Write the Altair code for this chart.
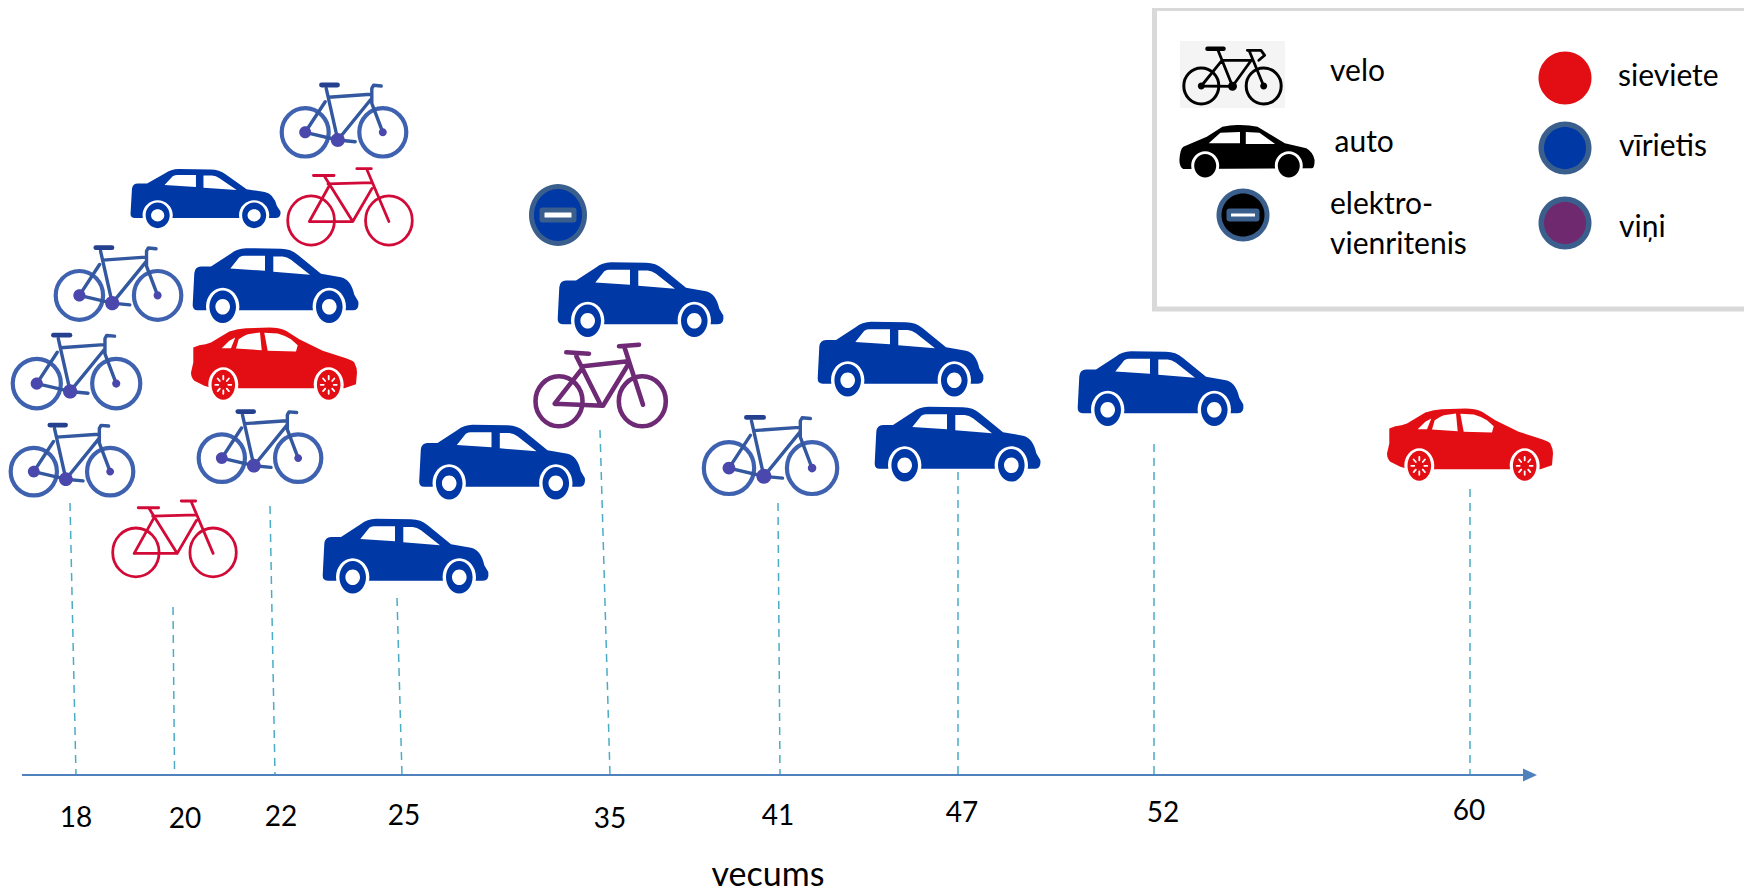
import re
import altair as alt
import pandas as pd

# ---- values (picture units, y grows downwards) ----
ages = ["18", "20", "22", "25", "35", "41", "47", "52", "60"]
line_top_x = [70, 173, 270, 397, 600, 778, 958, 1154, 1470]
line_top_y = [503, 607, 506, 598, 430, 503, 472, 444, 489]
line_base_x = [76, 174.5, 275, 402, 610, 780, 958, 1154, 1470]
line_base_y = [775, 769, 775, 775, 775, 775, 775, 775, 775]
age_label_x = [76, 185, 281, 404, 610, 778, 962, 1163, 1469]
age_label_y = [827, 828, 826, 825, 828, 825, 822, 822, 820]

blue_bike_x = [343.5, 118, 76, 71.5, 259.5, 770]
blue_bike_y = [121, 284, 372, 460.5, 447, 456]
blue_bike_w = [127, 128, 130, 125, 125, 136]
red_bike_x = [350, 174.5]
red_bike_y = [207, 539]
red_bike_w = [126, 125]
purple_bike_x = [600]
purple_bike_y = [386]
blue_car_x = [275, 640, 405, 501.5, 900, 957, 1160]
blue_car_y = [285.5, 299.5, 556, 462, 359, 444, 388.5]
small_car_x = [205]
small_car_y = [198.5]
red_car_x = [274, 1470]
red_car_y = [363.5, 444.5]
uni_x = [558]
uni_y = [215]

legend_left_labels = ["velo", "auto", "elektro-", "vienritenis"]
legend_left_x = [1330, 1334.5, 1330, 1330]
legend_left_y = [81, 152, 214, 254]
legend_right_labels = ["sieviete", "vīrietis", "viņi"]
legend_right_x = [1618, 1619, 1619]
legend_right_y = [86, 156, 237]
legend_dot_x = [1565, 1565, 1565]
legend_dot_y = [78, 148, 223]

FONT = "Lato"
BLUE, RED, PURPLE = "#0038a5", "#e30e14", "#6f2a6f"
BIKE_BLUE, BIKE_RED, BIKE_PURPLE = "#3f62b0", "#d10a37", "#6e2a74"
RING = "#3a5f8c"

xs = alt.Scale(domain=[8, 1744], range=[0, 1736])
ys = alt.Scale(domain=[894, 8], range=[886, 0])
X = alt.X("x:Q", scale=xs, axis=None)
Y = alt.Y("y:Q", scale=ys, axis=None)


def ell(cx, cy, rx, ry):
    k = 0.5523
    return (f"M{cx-rx} {cy} C{cx-rx} {cy-k*ry} {cx-k*rx} {cy-ry} {cx} {cy-ry} "
            f"C{cx+k*rx} {cy-ry} {cx+rx} {cy-k*ry} {cx+rx} {cy} "
            f"C{cx+rx} {cy+k*ry} {cx+k*rx} {cy+ry} {cx} {cy+ry} "
            f"C{cx-k*rx} {cy+ry} {cx-rx} {cy+k*ry} {cx-rx} {cy} Z ")


def rescale(d, sx, sy):
    i = [0]
    def f(m):
        v = float(m.group(0)) * (sx if i[0] % 2 == 0 else sy)
        i[0] += 1
        return f"{v:.2f}"
    return re.sub(r"-?\d+\.?\d*", f, d)


def pts(df, path, color, size=4, filled=True, width=0, size_field=False):
    kw = dict(shape=path, opacity=1, filled=filled, strokeCap="round", strokeJoin="round")
    if filled:
        kw.update(fill=color, strokeWidth=0)
    else:
        kw.update(stroke=color, strokeWidth=width, fill="transparent")
    enc = dict(x=X, y=Y)
    enc["size"] = alt.Size("s:Q", scale=None, legend=None) if size_field else alt.value(size)
    return alt.Chart(df).mark_point(**kw).encode(**enc)


# ---- saloon car outline (units = px at full size) ----
CAR_BODY = ("M-82.3 19.3 L-80.7 -12.3 Q-80 -19 -74 -19 L-64 -19 L-44 -32 Q-38 -37 -29 -37.3 "
            "L6 -36.7 Q16 -36.5 22.7 -30.7 L46 -11.7 L66 -8.3 Q76 -6 79.3 9.3 L83.3 16 "
            "Q84.5 24.7 77.7 24.7 L-77.3 24.7 Q-82.5 24.7 -82.3 19.3 Z")
CAR_WINDOWS = ("M-44.7 -17 L-35.7 -28.3 Q-33 -29.7 -30.7 -29.7 L-10 -29.7 L-10 -14.7 Z "
               "M-1.7 -29 L7.7 -29 Q12 -28.5 16 -25.7 L35 -10.7 L-1.7 -13.7 Z ")
CAR_ARCH = ell(-52.3, 21.3, 16.7, 19) + ell(54.3, 21.3, 16.7, 19)
CAR_TYRE = ell(-52.3, 21.3, 13.3, 16.3) + ell(54.3, 21.3, 13.3, 16.3)
CAR_HUB = ell(-52.3, 21.3, 7.3, 7.8) + ell(54.3, 21.3, 7.3, 7.8)


def car(df, sx=1.0, sy=1.0, color=BLUE):
    return [pts(df, rescale(CAR_BODY, sx, sy), color),
            pts(df, rescale(CAR_WINDOWS + CAR_ARCH, sx, sy), "white"),
            pts(df, rescale(CAR_TYRE, sx, sy), color),
            pts(df, rescale(CAR_HUB, sx, sy), "white")]


# ---- red sedan with spoked wheels ----
SEDAN_BODY = ("M-80.7 -16 L-74.7 -18.3 Q-68 -19 -63 -21 L-44.7 -32 Q-36 -35 -28 -35.3 L-4.7 -36 "
              "Q5 -36 12 -32.7 L25.3 -24.3 L48.7 -12.7 L72 -5.3 Q79 -3 80.3 -1 Q83 4 83 9 "
              "L82 20.7 L70.3 24.7 L-61.3 24.7 L-69.7 22.3 L-79.7 17.3 Q-83 14 -83 9 L-80.7 -1 Z")
SEDAN_WINDOWS = ("M-52.3 -15.3 L-44.7 -22.7 L-38.7 -26 L-43 -15.3 Z "
                 "M-38 -15 L-35.3 -24.3 Q-31 -27.5 -26.3 -29.3 L-14 -31 L-12.3 -13.3 Z "
                 "M-9.7 -30.7 L3.7 -30 Q11 -28 17 -24.3 L23.7 -18.3 L22 -12 L-6.3 -12.7 Z ")
SEDAN_ARCH = ell(-50.7, 21.3, 15, 17.5) + ell(54.7, 21.3, 15, 17.5)
SEDAN_TYRE = ell(-50.7, 21.3, 11.8, 15) + ell(54.7, 21.3, 11.8, 15)
SEDAN_SPOKES = ""
for cx in (-50.7, 54.7):
    for a, b in ((1, 0), (0.7, 0.7), (0, 1), (-0.7, 0.7), (-1, 0), (-0.7, -0.7), (0, -1), (0.7, -0.7)):
        SEDAN_SPOKES += f"M{cx + 5*a:.1f} {21.3 + 5.5*b:.1f} L{cx + 8*a:.1f} {21.3 + 9*b:.1f} "

# ---- men's bike ----
MB_WHEELS = ell(-38.3, 11.3, 23.5, 24.2) + ell(39.3, 11.3, 23.5, 24.2)
MB_FRAME = ("M-38.3 11.3 L-5.7 19 L-17.3 -32.7 M-15 -23.7 L27.3 -26.7 M-5.7 19 L28.3 -22.7 "
            "M-38.3 11.3 L-18.3 -19.3 M37.7 -35 L30 -35.7 L28.3 -32.7 L28.3 -17.7 L39.3 11.3 "
            "M-5.7 19 L11.7 20.7")
MB_SADDLE = "M-22 -36 L-6 -36"
MB_DOTS = ell(-38.3, 11.3, 6, 6) + ell(39.3, 11.3, 4, 4) + ell(-5.7, 19, 7, 7)


def men_bike(df):
    return [pts(df, MB_WHEELS, BIKE_BLUE, filled=False, width=4.2, size_field=True),
            pts(df, MB_FRAME, "#34589f", filled=False, width=3.4, size_field=True),
            pts(df, MB_SADDLE, "#24408e", filled=False, width=4.8, size_field=True),
            pts(df, MB_DOTS, "#4a48ac", size_field=True)]


# ---- women's bike ----
WB_WHEELS = ell(-38.3, 13.3, 23, 24.2) + ell(38.3, 13.3, 23, 24.2)
WB_FRAME = ("M-40 14.3 L2.7 14.3 L21.7 -18.3 M-21.7 -22.7 L21.7 -24 M-25 -30 L2.7 14.3 "
            "M-40 14.3 L-20 -21.7 M16.7 -36.7 L38.3 14.3 M6.7 -37.7 L21 -37.7 M-36 -31 L-15.7 -31")
PB_WHEELS = ell(-41, 15.3, 23.5, 25) + ell(42.3, 15.3, 23.5, 25)
PB_FRAME = ("M-45.3 17.7 L3 19.7 L28 -21.3 M-17 -19.7 L28 -24.7 M-23.7 -29.7 L-0.3 17 "
            "M-45.3 17.7 L-18.7 -16.3 M24.7 -38 L43 18.7 M19 -39.7 L39 -41.3 M-33.7 -33.7 L-11 -32.3")

# ---- black legend icons ----
LB_WHEELS = ell(-31.2, 10, 17.5, 18) + ell(31.2, 10, 17.5, 18)
LB_FRAME = ("M-31.2 10 L0 10.3 L-14.5 -25.7 M-10.5 -15.7 L18.8 -15.7 L0 10.3 M-31.2 10 L-10.5 -15.7 "
            "M16.8 -25 L31.2 10 M14.8 -25.7 L28.5 -25.7 L32.2 -20.7 L26.3 -15.7")
LB_SADDLE = "M-25 -27.3 L-9 -27.3"
LB_DOTS = ell(-31.2, 10, 3.5, 3.5) + ell(31.2, 10, 3.5, 3.5) + ell(0, 10.3, 4.5, 4.5)
LC_BODY = ("M-67.6 9 Q-67 -2 -63.7 -4.3 L-40.2 -14.3 L-24.6 -24.3 Q-15 -26.5 -7 -26 Q3 -26 10.5 -24.3 "
           "L37.8 -7.7 L59.3 -2.7 Q66 1 67.6 9 Q67.6 17 65 17.3 L-63.7 18 Q-67.6 16 -67.6 9 Z")
LC_WIN = ("M-38.3 -7.7 L-26.6 -18.3 L-7 -19 L-7 -7.7 Z M-1.2 -19 L12.5 -18.3 L28.1 -7 L-1.2 -7 Z ")
LC_ARCH = ell(-41.8, 14.7, 14, 14.5) + ell(41.8, 14.7, 14, 14.5)
LC_TYRE = ell(-41.8, 14.7, 11, 11.7) + ell(41.8, 14.7, 11, 11.7)


# unicycle glyph
def unicycle(df, fill, rx, ry, inner_w, inner_h, dash_w, dash_h):
    def rr(w, h, r):
        return (f"M{-w+r} {-h} L{w-r} {-h} Q{w} {-h} {w} {-h+r} L{w} {h-r} Q{w} {h} {w-r} {h} "
                f"L{-w+r} {h} Q{-w} {h} {-w} {h-r} L{-w} {-h+r} Q{-w} {-h} {-w+r} {-h} Z")
    return [pts(df, ell(0, 0, rx, ry), RING),
            pts(df, ell(0, 0, rx - 5, ry - 5), fill),
            pts(df, rr(inner_w, inner_h, 3), RING),
            pts(df, rr(dash_w, dash_h, 0.5), "white")]


def table(x, y, w=None, ref=127):
    d = {"x": x, "y": y}
    if w is not None:
        d["s"] = [4 * (v / ref) ** 2 for v in w]
    return pd.DataFrame(d)


layers = []

# legend box
box = pd.DataFrame({"x": [1154.5], "x2": [1775], "y": [8.5], "y2": [309]})
layers.append(alt.Chart(box).mark_rect(fill="white", stroke="#d9d9d9", strokeWidth=5).encode(
    x=X, y=Y, x2="x2:Q", y2="y2:Q"))

# drop lines
drops = pd.DataFrame({"x": line_top_x, "y": line_top_y, "x2": line_base_x, "y2": line_base_y})
layers.append(alt.Chart(drops).mark_rule(color="#4bacc6", strokeWidth=1.5, strokeDash=[8, 6]).encode(
    x=X, y=Y, x2="x2:Q", y2="y2:Q"))

# axis with arrow
axis = pd.DataFrame({"x": [22], "x2": [1525], "y": [775]})
layers.append(alt.Chart(axis).mark_rule(color="#4f81bd", strokeWidth=2.2).encode(x=X, x2="x2:Q", y=Y))
arrow = pd.DataFrame({"x": [1530], "y": [775]})
layers.append(alt.Chart(arrow).mark_point(shape="M-7 -6.5 L7 0 L-7 6.5 Z", filled=True, fill="#4f81bd",
                                          opacity=1, strokeWidth=0, size=4).encode(x=X, y=Y))

# icons
men = table(blue_bike_x, blue_bike_y, blue_bike_w)
layers += men_bike(men)
women = table(red_bike_x, red_bike_y, red_bike_w, ref=124)
layers += [pts(women, WB_WHEELS, BIKE_RED, filled=False, width=2.8, size_field=True),
           pts(women, WB_FRAME, BIKE_RED, filled=False, width=2.8, size_field=True)]
pb = table(purple_bike_x, purple_bike_y)
layers += [pts(pb, PB_WHEELS, BIKE_PURPLE, filled=False, width=4.6),
           pts(pb, PB_FRAME, BIKE_PURPLE, filled=False, width=4.6)]
layers += car(table(blue_car_x, blue_car_y))
layers += car(table(small_car_x, small_car_y), sx=0.905, sy=0.79)
sed = table(red_car_x, red_car_y)
layers += [pts(sed, SEDAN_BODY, RED),
           pts(sed, SEDAN_WINDOWS + SEDAN_ARCH, "white"),
           pts(sed, SEDAN_TYRE, RED),
           pts(sed, SEDAN_SPOKES, "white", filled=False, width=1.8)]
layers += unicycle(table(uni_x, uni_y), BLUE, 29, 31, 18.5, 7.5, 13.5, 2.5)

# legend icons
patch = pd.DataFrame({"x": [1180], "x2": [1285], "y": [41], "y2": [108]})
layers.append(alt.Chart(patch).mark_rect(fill="#f4f4f4").encode(x=X, y=Y, x2="x2:Q", y2="y2:Q"))
lb = table([1232.5], [76])
layers += [pts(lb, LB_WHEELS, "black", filled=False, width=3),
           pts(lb, LB_FRAME, "black", filled=False, width=2.8),
           pts(lb, LB_SADDLE, "black", filled=False, width=4.5),
           pts(lb, LB_DOTS, "black")]
lc = table([1247], [151])
layers += [pts(lc, LC_BODY, "black"), pts(lc, LC_WIN + LC_ARCH, "white"), pts(lc, LC_TYRE, "black")]
layers += unicycle(table([1243], [215]), "black", 26.5, 26.5, 16.5, 6.5, 12, 1.5)

dots = pd.DataFrame({"x": legend_dot_x, "y": legend_dot_y})
layers.append(pts(dots.iloc[[0]], ell(0, 0, 26.5, 26.5), RED))
layers.append(pts(dots.iloc[[1]], ell(0, 0, 26.5, 26.5), RING))
layers.append(pts(dots.iloc[[1]], ell(0, 0, 21, 21), BLUE))
layers.append(pts(dots.iloc[[2]], ell(0, 0, 26.5, 26.5), RING))
layers.append(pts(dots.iloc[[2]], ell(0, 0, 21, 21), PURPLE))


# text
def text(labels, x, y, size, align):
    df = pd.DataFrame({"t": labels, "x": x, "y": y})
    return alt.Chart(df).mark_text(font=FONT, fontSize=size, align=align, baseline="alphabetic",
                                   color="black").encode(x=X, y=Y, text="t:N")


layers.append(text(ages, age_label_x, age_label_y, 28, "center"))
layers.append(text(legend_left_labels, legend_left_x, legend_left_y, 30, "left"))
layers.append(text(legend_right_labels, legend_right_x, legend_right_y, 30, "left"))
layers.append(text(["vecums"], [768], [886], 34, "center"))

chart = alt.layer(*layers).properties(
    width=1736, height=886, padding=0, background="white",
    autosize=alt.AutoSizeParams(type="none"),
).configure_view(stroke=None)

chart.save("out.html", embed_options={"renderer": "svg", "actions": False})
